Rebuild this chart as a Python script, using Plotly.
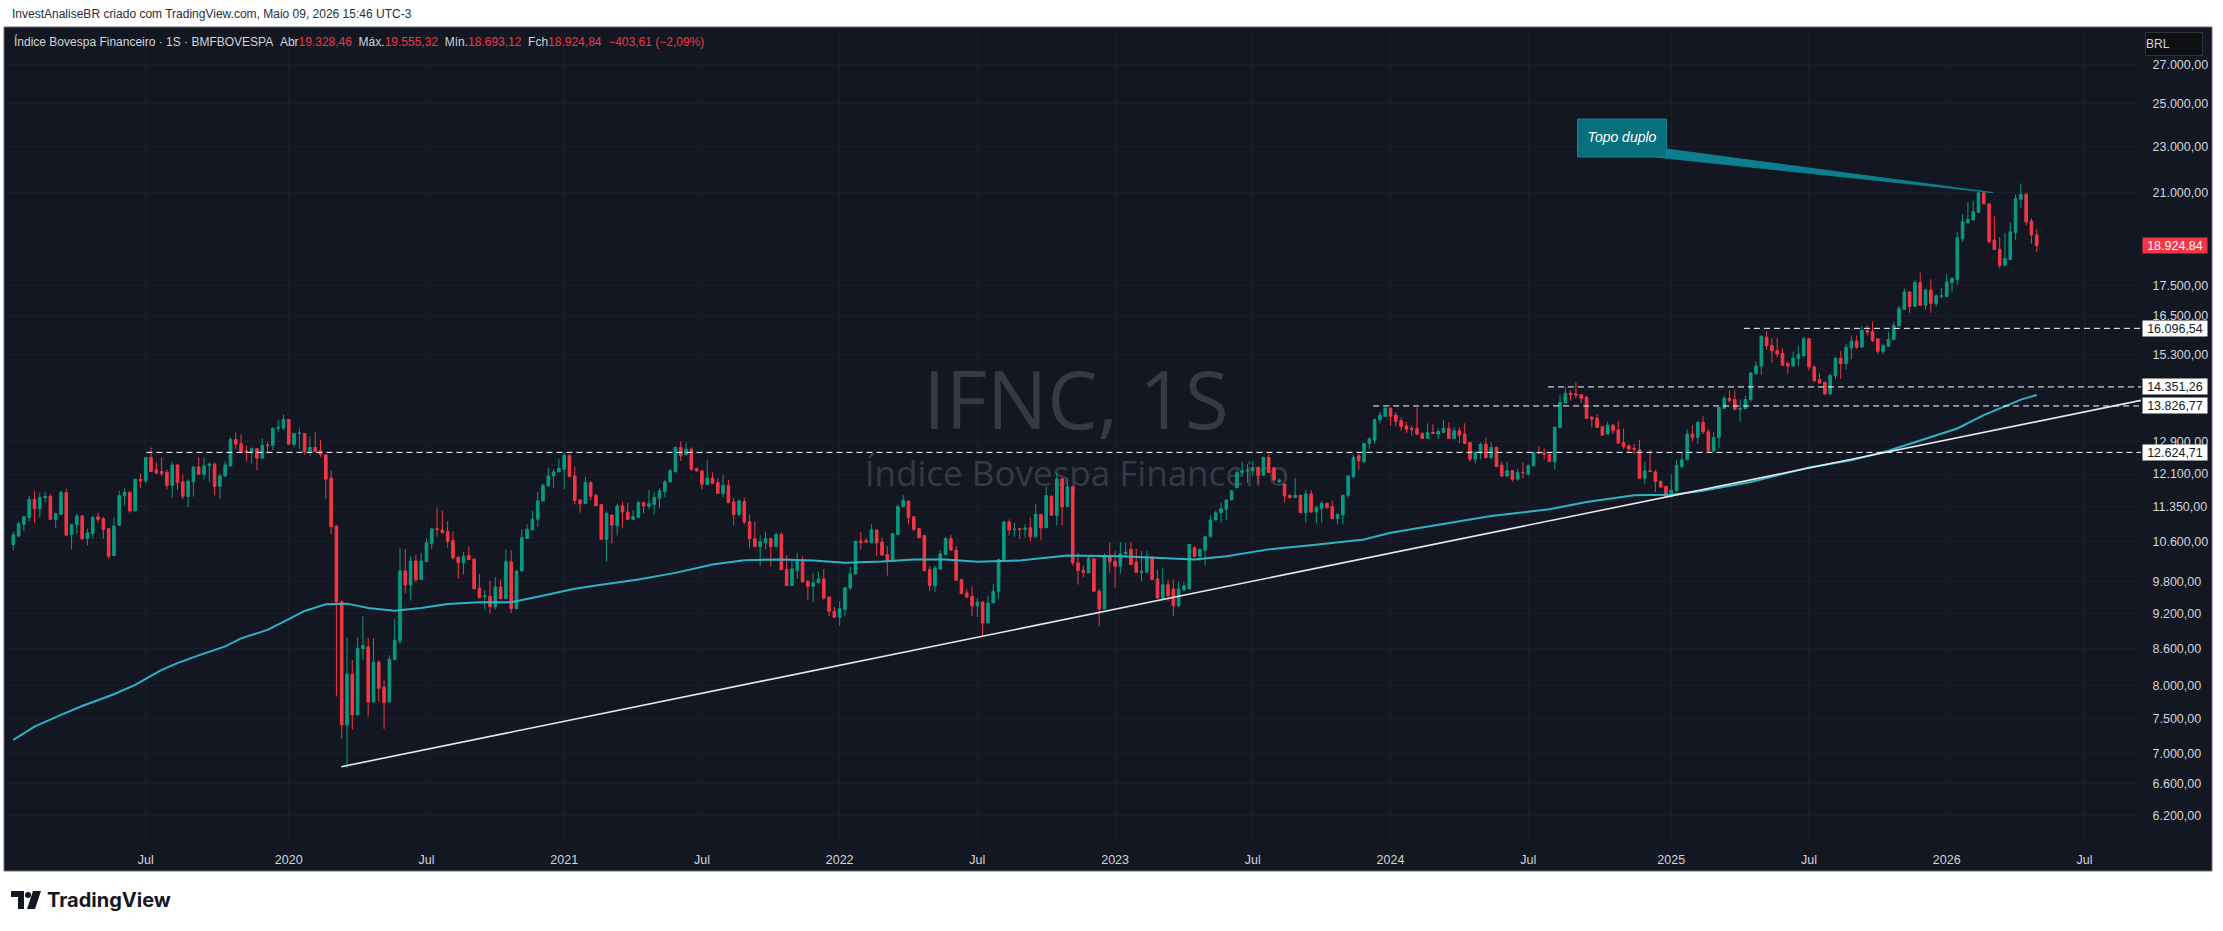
import numpy as np
import pandas as pd
import plotly.graph_objects as go

# ---------------- data (weekly bars) ----------------
first_week = "2019-01-07"

opens = [
10540,10715,10963,11109,11510,11306,11555,11578,11072,11181,
11668,10750,10957,11145,10665,10765,11130,11087,10872,10315,
10943,11592,11668,11256,11978,11939,12499,12200,12159,12135,
11836,12319,11915,11578,11923,12270,12095,12296,12336,11812,
12055,12296,12948,12839,12664,12622,12716,12482,12810,12800,
13232,13240,13468,12828,13102,13102,12646,12747,12664,12565,
12002,10929,9419,7400,8176,7548,8594,8624,7744,8371,
7971,7744,8410,8728,10006,9737,10205,9840,10193,10561,
10870,10843,10814,10618,10281,10168,10316,10246,9680,9522,
9522,9330,9698,9478,10188,9296,10006,10664,10843,11072,
11479,11820,12055,12151,12216,12555,12055,11502,11418,11899,
11600,11396,10646,11167,10929,11366,11233,11072,11115,11441,
11366,11403,11540,11692,11915,12151,12747,12564,12701,12232,
12176,11860,12002,11899,11652,11836,11456,11181,11464,11022,
10660,10495,10576,10660,10495,10750,10032,9724,10013,10200,
9808,9712,9776,9853,9509,9248,9138,9278,9680,9950,
10611,10620,10576,10843,10590,10336,10200,10750,11350,11479,
11130,10872,10728,10032,9724,10046,10336,10665,10426,9840,
9586,9522,9349,9419,9038,9400,9618,10232,11015,10857,
10872,10857,10892,10700,11181,10892,11578,11159,11986,11350,
11804,10168,10019,9970,10249,9618,9290,10302,10200,10100,
10350,10440,10180,9980,9980,10288,9853,9490,9743,9661,
9349,9648,9661,10474,10302,10426,10700,11058,11218,11292,
11502,11781,12135,12176,12176,12254,12071,12499,12254,11923,
11860,11607,11555,11607,11218,11637,11233,11306,11425,11350,
11087,11167,11607,12039,12540,12393,12846,12932,13460,13548,
13770,13582,13433,13300,13229,13229,13102,12974,13128,13085,
13128,13229,12974,13171,13085,12872,12458,12605,12828,12499,
12747,12310,12055,12176,11978,12135,12095,12296,12622,12605,
12580,12400,13258,13906,14173,14155,14136,14060,13522,13495,
13283,13085,13317,13193,12872,12786,12722,12689,12002,12176,
12151,11931,11812,11578,11708,12278,12441,13085,13002,13388,
13145,12654,12992,13761,14038,13999,13740,13752,13999,14721,
14951,15820,15561,15408,15327,15023,14951,15173,15247,15769,
14922,14559,14483,14155,14672,15173,15023,15493,15699,15514,
16027,15999,15769,15386,15540,15748,16172,16706,17284,16806,
17603,16841,17353,16897,17135,17135,17603,17709,19186,19806,
19900,20198,20995,20541,19132,18792,18212,18419,19421,20723,
20931,19861,19328.46]

highs = [
10820,11022,11145,11600,11708,11668,11684,11637,11218,11720,
11760,10978,11196,11167,10872,11145,11218,11123,10872,11130,
11708,11760,11708,11978,12111,12499,12747,12393,12499,12208,
12393,12319,12087,11978,12270,12499,12499,12376,12376,12111,
12417,13005,13128,13076,12786,12747,12722,12974,12890,13258,
13460,13592,13468,13102,13258,13102,13024,13128,12940,12565,
12176,10929,9450,8791,8405,8791,9156,8776,8776,8400,
8076,8483,9107,10471,10450,10302,10329,10370,10660,10892,
11327,11256,11036,10807,10302,10385,10495,10246,9950,9637,
9822,9890,9840,10440,10418,10032,10857,10963,11256,11684,
11876,12254,12212,12458,12622,12555,12278,11517,12039,11923,
11637,11396,11247,11167,11418,11456,11441,11279,11479,11464,
11730,11668,11768,11962,12216,12764,12898,12872,12747,12254,
12176,12441,12135,12002,12079,11962,11555,11517,11555,11181,
11036,10736,10807,10679,10786,10800,10323,10222,10370,10302,
9840,9970,10000,10046,9509,9327,9430,9698,10087,10611,
10800,10679,10978,10843,10679,10509,10786,11403,11610,11479,
11130,10892,10728,10100,10113,10426,10693,10736,10509,9840,
9665,9712,9490,9419,9535,9757,10253,11036,11072,11000,
10872,10963,11109,11403,11181,11804,11614,12135,12002,12002,
11804,10370,10113,10323,10249,9665,10357,10576,10405,10590,
10576,10590,10455,10405,10405,10288,10032,10066,9840,9840,
9808,9789,10540,10509,10440,10728,11159,11256,11441,11502,
11730,12200,12400,12336,12393,12296,12524,12580,12254,11990,
11860,11620,12002,11607,11745,11730,11380,11472,11441,11479,
11200,11620,12071,12560,12600,12872,13002,13495,13672,13770,
13770,13654,13522,13406,13300,13788,13128,13362,13340,13229,
13449,13388,13258,13258,13362,12890,12664,12872,13002,12872,
12772,12393,12393,12200,12232,12376,12336,12640,12786,12722,
12600,13283,14130,14344,14250,14483,14136,14110,13568,13610,
13283,13406,13340,13433,13229,12828,12828,12940,12393,12689,
12200,11940,11812,12095,12432,12622,13211,13317,13420,13548,
13211,13128,13800,14110,14250,14250,13999,14110,14770,15083,
15873,16010,15790,15790,15479,15083,15377,15561,15820,15769,
14972,14750,14500,14721,15210,15408,15617,15873,15873,16172,
16188,16317,15769,15617,15978,16295,16818,17398,17300,17688,
17955,17400,17722,17200,17422,17899,17800,19447,20126,20613,
20668,21037,21063,20541,20061,19250,19408,19793,20931,21381,
20988,19966,19555.32]

lows = [
10420,10693,10822,11022,11000,11109,11441,11072,10892,11181,
10715,10440,10765,10625,10520,10660,11000,10660,10253,10315,
10943,11380,11218,11256,11768,11883,12159,12095,12055,11745,
11555,11730,11517,11335,11578,12095,11978,11915,11607,11517,
12023,12270,12706,12622,12400,12352,12192,12482,12605,12681,
13128,13180,12828,12747,12706,12565,12540,12622,12515,11517,
10750,7826,7200,6797,7337,7548,8410,7524,7744,7744,
7343,7744,8410,8673,9586,9458,9792,9840,10193,10440,
10700,10786,10474,10232,9857,9936,10232,9648,9496,9278,
9205,9278,9478,9478,9217,9296,10006,10664,10843,10914,
11464,11797,11781,12151,11745,12039,11403,11218,11418,11494,
11373,10646,10193,10561,10728,10892,11072,11072,11115,11196,
11292,11181,11314,11563,11915,12151,12417,12564,12176,12151,
11745,11860,11883,11652,11555,11441,10950,11145,10963,10455,
10495,10113,10440,10100,10495,10032,9724,9724,9853,9795,
9460,9412,9776,9460,9157,9138,8990,9157,9640,9950,
10440,10576,10576,10302,10323,9917,10200,10728,11327,10963,
10822,10679,10013,9618,9599,10046,10336,10426,9828,9573,
9490,9157,9144,8816,9038,9400,9478,10232,10728,10700,
10646,10679,10611,10700,10632,10892,11145,10943,10943,11350,
10113,9743,9890,9970,9599,8978,9290,9970,9680,9950,
10302,10134,9980,9808,9980,9828,9472,9472,9430,9157,
9327,9620,9661,10267,10200,10113,10700,11058,11000,11058,
11502,11781,12071,11899,12055,11876,12071,12135,11923,11890,
11441,11530,11555,11218,11000,11218,10985,11000,11306,11072,
10963,10963,11555,12002,12200,12376,12706,12828,13362,13548,
13300,13283,13171,13110,13041,13058,12958,12974,13085,12958,
13128,12974,12974,12846,12846,12393,12359,12458,12474,12458,
12278,12039,12039,11915,11946,12002,12080,12296,12590,12458,
12400,12216,13229,13880,13972,14038,13906,13495,13258,13258,
13058,13085,13085,12855,12706,12622,12580,12002,11860,12159,
11684,11781,11560,11555,11708,12245,12441,12890,12828,13085,
12654,12654,12741,13740,13925,13734,13406,13752,13943,14721,
14692,15438,15043,15210,14951,14721,14951,14951,15247,14824,
14483,14440,14127,14127,14576,14576,14853,15153,15458,15514,
15873,15667,15306,15306,15540,15720,16172,16706,16595,16806,
16841,16706,16595,16800,17068,17135,17284,17532,19069,19754,
19900,20198,20541,19005,18780,18095,18212,18400,19132,20388,
19700,19005,18693.12]

closes = [
10740,10978,11130,11510,11306,11555,11578,11072,11196,11668,
10736,10957,11145,10660,10786,11109,11072,10857,10302,10929,
11600,11676,11256,11978,11939,12499,12159,12128,12111,11836,
12319,11899,11585,11931,12270,12095,12296,12336,11812,12055,
12319,12948,12828,12646,12622,12716,12482,12800,12800,13232,
13258,13468,12828,13102,13110,12646,12747,12646,12580,11978,
10914,9419,7400,8176,7548,8604,8646,7741,8369,7953,
7732,8419,8739,10006,9737,10205,9837,10205,10576,10869,
10857,10786,10604,10267,10168,10302,10232,9665,9496,9530,
9330,9698,9478,10188,9296,10006,10679,10857,11072,11479,
11836,12055,12151,12232,12555,12039,11491,11418,11899,11585,
11373,10646,11203,10950,11366,11233,11072,11130,11441,11366,
11418,11555,11708,11915,12176,12747,12540,12701,12216,12176,
11860,12002,11883,11652,11836,11441,11181,11479,11015,10660,
10495,10597,10660,10495,10750,10032,9724,10046,10200,9795,
9712,9776,9853,9490,9248,9138,9296,9680,9950,10611,
10576,10590,10843,10576,10323,10200,10765,11350,11494,11109,
10857,10679,10013,9724,10066,10350,10665,10426,9828,9573,
9509,9349,9419,9038,9400,9618,10232,11015,10843,10860,
10857,10886,10700,11181,10892,11600,11159,11986,11350,11804,
10168,10019,9980,10249,9618,9290,10316,10188,10100,10350,
10385,10134,9980,10000,10288,9840,9490,9743,9535,9349,
9661,9720,10540,10302,10440,10700,11058,11218,11306,11502,
11708,12135,12176,12190,12254,12071,12499,12135,11962,11960,
11592,11560,11607,11218,11637,11233,11328,11425,11328,11087,
11181,11607,12055,12500,12420,12846,12958,13460,13582,13770,
13548,13415,13283,13211,13211,13085,12974,13128,13102,13155,
13229,12974,13171,13058,12846,12458,12622,12828,12499,12747,
12278,12055,12176,11978,12135,12130,12296,12622,12605,12580,
12400,13258,13925,14173,14136,14127,14038,13495,13477,13258,
13058,13317,13171,12855,12772,12706,12706,12002,12176,12159,
11923,11797,11578,11725,12310,12441,13085,13002,13388,13145,
12654,12992,13788,14038,13972,13734,13761,13999,14750,14951,
15851,15561,15408,15306,14972,14951,15173,15296,15769,14922,
14530,14463,14155,14672,15173,15023,15514,15699,15514,16027,
15978,15720,15386,15561,15748,16188,16726,17284,16806,17603,
16841,17353,16897,17158,17158,17627,17744,19224,19833,19925,
20226,20995,20541,19069,18780,18212,18456,19447,20751,20931,
19833,19328.45,18924.84]

assert len(opens) == len(highs) == len(lows) == len(closes) == 383

# long moving average (bar number, value)
ma_bar = [0, 4, 9, 13, 19, 23, 28, 31, 35, 40, 43, 48, 52, 55, 59, 63, 67, 72, 77, 82,
          88, 94, 99, 106, 111, 118, 125, 132, 138, 145, 151, 157, 164, 170, 176, 182,
          190, 199, 209, 218, 223, 229, 237, 245, 255, 260, 270, 279, 290, 297, 306, 313,
          319, 328, 339, 347, 354, 361, 367, 372, 375, 379, 382]
ma_value = [7188, 7377, 7548, 7682, 7861, 8006, 8246, 8355, 8482, 8633, 8769, 8917, 9107,
            9254, 9376, 9387, 9307, 9257, 9307, 9381, 9413, 9413, 9513, 9665, 9743, 9840,
            9970, 10134, 10222, 10234, 10214, 10168, 10194, 10234, 10234, 10188, 10214,
            10315, 10302, 10253, 10234, 10302, 10440, 10526, 10646, 10786, 10978, 11145,
            11292, 11456, 11607, 11617, 11708, 11915, 12254, 12432, 12664, 12974, 13229,
            13582, 13761, 13999, 14127]
assert len(ma_bar) == len(ma_value)

# horizontal levels (drawings) and where they start
levels = [12624.71, 13826.77, 14351.26, 16096.54]
level_start = ["2019-07-02", "2023-12-09", "2024-07-27", "2025-04-12"]
last_price = 18924.84

# trend line anchors: (weeks after first bar, price)
trend_weeks = [61.92, 328.49]
trend_prices = [6820, 11976]

price_ticks = [6200, 6600, 7000, 7500, 8000, 8600, 9200, 9800, 10600, 11350, 12100,
               12900, 15300, 16500, 17500, 21000, 23000, 25000, 27000]
date_ticks = ["2019-07-01", "2020-01-06", "2020-07-06", "2021-01-04", "2021-07-05",
              "2022-01-03", "2022-07-04", "2023-01-02", "2023-07-03", "2024-01-01",
              "2024-07-01", "2025-01-06", "2025-07-07", "2026-01-05", "2026-07-06"]
date_tick_text = ["Jul", "2020", "Jul", "2021", "Jul", "2022", "Jul", "2023", "Jul",
                  "2024", "Jul", "2025", "Jul", "2026", "Jul"]

# ---------------- helpers ----------------
W, H = 2223, 931
ML, MR, MT, MB = 5, 82, 28, 89
PW, PH = W - ML - MR, H - MT - MB

def px(x):
    return (x - ML) / PW

def py(y):
    return (H - MB - y) / PH

def br(v):
    s = f"{v:,.2f}"
    return s.replace(",", "X").replace(".", ",").replace("X", ".")

dates = pd.date_range(first_week, periods=len(closes), freq="7D")
t0 = dates[0]

def wk(w):
    return t0 + pd.Timedelta(days=7 * w)

x_left, x_right = wk(-1.567), wk(401.68)
y_lo, y_hi = 5885, 28990

BG = "#131722"
UP, DN = "#089981", "#f23645"
TXT = "#d1d4dc"
FONT = "Liberation Sans"

fig = go.Figure()

# watermark (base subplot, drawn beneath candles)
fig.add_trace(go.Scatter(x=[px(1076)], y=[py(409)], mode="text", text=["IFNC, 1S"],
                         textposition="middle center", hoverinfo="skip",
                         textfont=dict(family="Open Sans", size=80, color="#363a45"),
                         xaxis="x", yaxis="y", showlegend=False))
fig.add_trace(go.Scatter(x=[px(1077)], y=[py(477)], mode="text",
                         text=["Índice Bovespa Financeiro"], textposition="middle center",
                         hoverinfo="skip",
                         textfont=dict(family="Open Sans", size=35, color="#363a45"),
                         xaxis="x", yaxis="y", showlegend=False))

# candles
fig.add_trace(go.Candlestick(
    x=dates, open=opens, high=highs, low=lows, close=closes,
    increasing=dict(line=dict(color=UP, width=1), fillcolor=UP),
    decreasing=dict(line=dict(color=DN, width=1), fillcolor=DN),
    whiskerwidth=0, xaxis="x2", yaxis="y2", showlegend=False, hoverinfo="skip"))

# moving average
fig.add_trace(go.Scatter(x=dates[ma_bar], y=ma_value, mode="lines",
                         line=dict(color="#2eb3c6", width=2), xaxis="x2", yaxis="y2",
                         showlegend=False, hoverinfo="skip"))

# trend line extended to the right edge (log-linear)
lw = np.array(trend_weeks)
lp = np.log(np.array(trend_prices))
slope = (lp[1] - lp[0]) / (lw[1] - lw[0])
w_end = 401.68
p_end = np.exp(lp[0] + slope * (w_end - lw[0]))
fig.add_trace(go.Scatter(x=[wk(lw[0]), wk(w_end)], y=[trend_prices[0], p_end],
                         mode="lines", line=dict(color="#e6e8ee", width=1.6),
                         xaxis="x2", yaxis="y2", showlegend=False, hoverinfo="skip"))

# horizontal dashed levels
for lv, st in zip(levels, level_start):
    fig.add_trace(go.Scatter(x=[pd.Timestamp(st), x_right], y=[lv, lv], mode="lines",
                             line=dict(color="#ffffff", width=1, dash="6px,4px"),
                             xaxis="x2", yaxis="y2", showlegend=False, hoverinfo="skip"))

# "Topo duplo" callout
bw0, bw1 = 295.3, 312.1
bp0, bp1 = 22516, 24256
fig.add_trace(go.Scatter(x=[wk(312.1), wk(310.0), wk(373.7), wk(312.1)],
                         y=[22872, 22516, 21000, 22872], mode="lines", fill="toself",
                         fillcolor="#0b7f8f", line=dict(color="#0b7f8f", width=1),
                         xaxis="x2", yaxis="y2", showlegend=False, hoverinfo="skip"))
fig.add_trace(go.Scatter(x=[wk(bw0), wk(bw1), wk(bw1), wk(bw0), wk(bw0)],
                         y=[bp0, bp0, bp1, bp1, bp0], mode="lines", fill="toself",
                         fillcolor="#08707d", line=dict(color="#0c8596", width=1),
                         xaxis="x2", yaxis="y2", showlegend=False, hoverinfo="skip"))
fig.add_trace(go.Scatter(x=[wk((bw0 + bw1) / 2)], y=[23370], mode="text",
                         text=["<i>Topo duplo</i>"], textposition="middle center",
                         textfont=dict(family=FONT, size=14, color="#ffffff"),
                         xaxis="x2", yaxis="y2", showlegend=False, hoverinfo="skip"))

annotations = []
# level labels on the price scale
for lv in levels:
    annotations.append(dict(xref="paper", yref="y2", x=1.0, y=np.log10(lv), xanchor="left",
                            yanchor="middle", xshift=1, text=br(lv), showarrow=False,
                            bgcolor="#ffffff", width=64, height=15, borderpad=0,
                            font=dict(family=FONT, size=12.5, color="#131722")))
annotations.append(dict(xref="paper", yref="y2", x=1.0, y=np.log10(last_price),
                        xanchor="left", yanchor="middle", xshift=1, text=br(last_price),
                        showarrow=False, bgcolor=DN, width=64, height=15, borderpad=0,
                        font=dict(family=FONT, size=12.5, color="#ffffff")))
# BRL button
annotations.append(dict(xref="paper", yref="paper", x=px(2145), y=py(44), xanchor="left",
                        yanchor="middle", text="BRL", showarrow=False, align="left",
                        bgcolor="#0e0f13", bordercolor="#2f323c", borderwidth=1,
                        width=56, height=22, borderpad=0,
                        font=dict(family=FONT, size=12, color=TXT)))
# header lines
annotations.append(dict(xref="paper", yref="paper", x=px(10), y=py(14), xanchor="left",
                        yanchor="middle", showarrow=False,
                        text="InvestAnaliseBR criado com TradingView.com, Maio 09, 2026 15:46 UTC-3",
                        font=dict(family=FONT, size=12, color="#2a2e39")))
red = lambda s: f"<span style='color:{DN}'>{s}</span>"
sp = "\u00a0\u00a0"
legend = ("Índice Bovespa Financeiro · 1S · BMFBOVESPA" + sp + "Abr" + red(br(opens[-1])) +
          sp + "Máx." + red(br(highs[-1])) + sp + "Mín." + red(br(lows[-1])) + sp + "Fch" +
          red(br(closes[-1])) + sp + red("−403,61 (−2,09%)"))
annotations.append(dict(xref="paper", yref="paper", x=px(12), y=py(41), xanchor="left",
                        yanchor="middle", showarrow=False, text=legend,
                        font=dict(family=FONT, size=12, color=TXT)))
# footer logo text
annotations.append(dict(xref="paper", yref="paper", x=px(45), y=py(900), xanchor="left",
                        yanchor="middle", showarrow=False, text="<b>TradingView</b>",
                        font=dict(family="Inter", size=20, color="#131722")))

shapes = [
    dict(type="rect", xref="paper", yref="paper", x0=px(4), x1=px(2212), y0=py(871),
         y1=py(27), fillcolor=BG, line=dict(color="#6a6d78", width=1), layer="below"),
    # TradingView logo mark
    dict(type="rect", xref="paper", yref="paper", x0=px(11), x1=px(24), y0=py(897),
         y1=py(891), fillcolor="#131722", line=dict(width=0)),
    dict(type="rect", xref="paper", yref="paper", x0=px(18), x1=px(24), y0=py(909),
         y1=py(891), fillcolor="#131722", line=dict(width=0)),
    dict(type="circle", xref="paper", yref="paper", x0=px(25), x1=px(31), y0=py(898),
         y1=py(892), fillcolor="#131722", line=dict(width=0)),
    dict(type="path", xref="paper", yref="paper",
         path=f"M {px(33)} {py(891)} L {px(41)} {py(891)} L {px(35)} {py(909)} L {px(27)} {py(909)} Z",
         fillcolor="#131722", line=dict(width=0)),
]

fig.update_layout(
    width=W, height=H, margin=dict(l=ML, r=MR, t=MT, b=MB, pad=0),
    paper_bgcolor="#ffffff", plot_bgcolor=BG, showlegend=False,
    xaxis=dict(range=[0, 1], visible=False, fixedrange=True),
    yaxis=dict(range=[0, 1], visible=False, fixedrange=True),
    xaxis2=dict(type="date", overlaying="x", anchor="y2", range=[x_left, x_right],
                tickvals=date_ticks, ticktext=date_tick_text, ticks="outside", ticklen=6,
                tickcolor=BG, showgrid=True, gridcolor="#1a1e2a", gridwidth=1,
                zeroline=False, showline=False, rangeslider=dict(visible=False),
                tickfont=dict(family=FONT, size=12.5, color=TXT)),
    yaxis2=dict(type="log", overlaying="y", anchor="x2", side="right",
                range=[np.log10(y_lo), np.log10(y_hi)], tickvals=price_ticks,
                ticktext=[br(v) for v in price_ticks], ticks="outside", ticklen=8,
                tickcolor=BG, showgrid=True, gridcolor="#1a1e2a", gridwidth=1,
                zeroline=False, showline=False,
                tickfont=dict(family=FONT, size=12.5, color=TXT)),
    annotations=annotations, shapes=shapes,
)

fig.write_html("out.html")
